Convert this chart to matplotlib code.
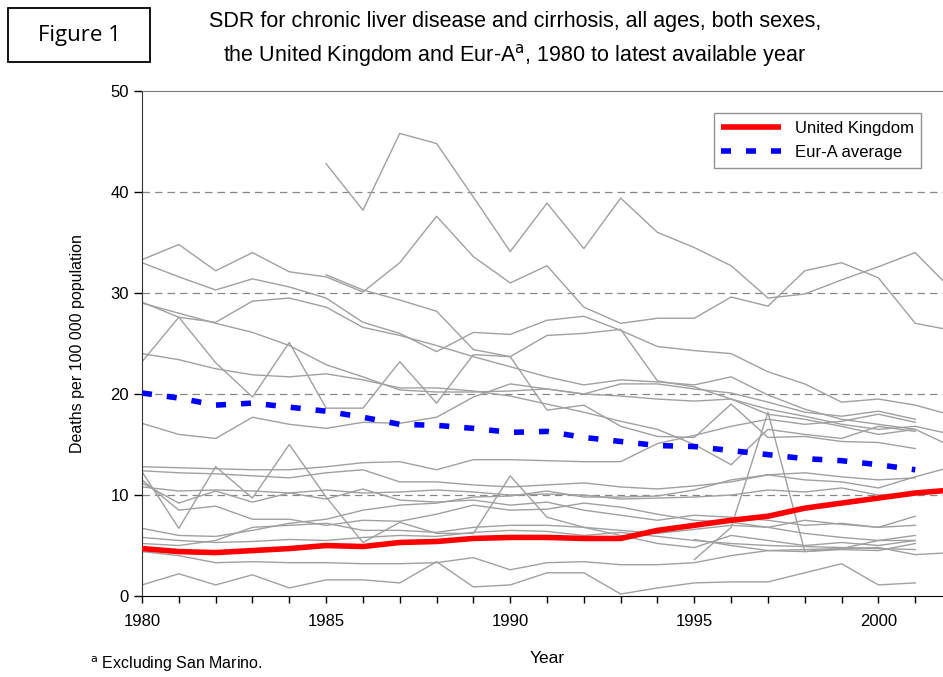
import numpy as np
import matplotlib
matplotlib.use("Agg")
import matplotlib.pyplot as plt
from matplotlib.patches import Rectangle

plt.rcParams['font.family'] = ['Liberation Sans', 'DejaVu Sans']

nan = np.nan
years = list(range(1980, 2003))

uk = [4.7, 4.4, 4.3, 4.5, 4.7, 5.0, 4.9, 5.3, 5.4, 5.7, 5.8, 5.8, 5.7, 5.7,
      6.5, 7.0, 7.5, 7.9, 8.7, 9.2, 9.7, 10.2, 10.5]
eur_a = [20.1, 19.6, 18.9, 19.1, 18.7, 18.3, 17.7, 17.0, 16.9, 16.6, 16.2, 16.3,
         15.7, 15.3, 14.9, 14.8, 14.4, 14.0, 13.6, 13.4, 13.0, 12.5, nan]

# other Eur-A countries (grey)
countries = [
    [nan, nan, nan, nan, nan, 42.8, 38.2, 45.8, 44.8, 39.5, 34.1, 38.9, 34.4, 39.4,
     36.0, 34.5, 32.7, 29.5, 29.9, 31.3, 32.6, 34.0, 30.3],
    [33.3, 34.8, 32.2, 34.0, 32.1, 31.6, 30.1, 33.0, 37.6, 33.6, 31.0, 32.7, 28.6, 27.0,
     27.5, 27.5, 29.6, 28.7, 32.2, 33.0, 31.5, 27.0, 26.3],
    [33.0, 31.6, 30.3, 31.4, 30.6, 29.5, 27.1, 26.0, 24.2, 26.1, 25.9, 27.3, 27.7, 26.3,
     24.7, 24.3, 24.0, 22.2, 21.0, 19.2, 19.5, 18.9, 17.9],
    [nan, nan, nan, nan, nan, 31.8, 30.3, 29.3, 28.2, 24.4, 23.7, 18.4, 18.9, 16.8,
     15.8, 15.7, 19.0, 15.7, 15.8, 15.3, 15.2, 14.6, nan],
    [29.0, 28.0, 27.0, 26.1, 24.8, 22.9, 21.7, 20.4, 20.2, 20.2, 20.3, 20.5, 20.0, 21.0,
     21.0, 20.5, 20.1, 19.2, 18.2, 17.8, 18.3, 17.5, nan],
    [29.1, 27.6, 27.1, 29.2, 29.5, 28.6, 26.6, 25.8, 24.8, 23.7, 22.7, 21.7, 20.9, 21.4,
     21.2, 20.9, 21.7, 19.9, 18.5, 17.5, 17.0, 16.5, nan],
    [23.2, 27.6, 23.1, 19.7, 25.1, 18.6, 18.6, 23.2, 19.1, 23.9, 23.7, 25.8, 26.0, 26.4,
     21.3, 20.7, 19.5, 18.0, 17.5, 16.8, 16.0, 16.5, 14.8],
    [24.0, 23.4, 22.5, 21.9, 21.7, 22.0, 21.4, 20.6, 20.6, 20.3, 19.8, 19.0, 18.2, 17.3,
     16.5, 15.0, 13.0, 16.5, 16.0, 15.6, 16.8, 16.3, nan],
    [17.1, 16.0, 15.6, 17.7, 17.0, 16.6, 17.2, 17.1, 17.7, 19.7, 21.0, 20.5, 20.0, 19.8,
     19.5, 19.3, 19.5, 18.5, 17.8, 17.0, 16.5, 16.8, 16.0],
    [12.8, 12.7, 12.6, 12.5, 12.5, 12.8, 13.2, 13.3, 12.5, 13.5, 13.5, 13.4, 13.3, 13.3,
     15.1, 15.9, 16.8, 17.5, 17.0, 17.3, 18.0, 17.2, nan],
    [12.4, 12.2, 12.1, 11.9, 11.7, 12.2, 12.5, 11.3, 11.3, 11.0, 10.8, 11.0, 11.2, 10.8,
     10.6, 10.9, 11.3, 12.0, 12.2, 11.8, 11.5, 11.7, nan],
    [12.3, 6.7, 12.8, 9.7, 15.0, 9.8, 5.3, 7.3, 6.2, 6.2, 11.9, 7.8, 6.8, 6.0,
     5.2, 4.8, 6.0, 5.5, 5.0, 5.3, 5.0, 5.5, nan],
    [11.2, 9.2, 10.4, 9.3, 10.2, 9.6, 10.6, 9.5, 9.3, 9.5, 9.0, 9.3, 8.5, 8.0,
     7.5, 8.0, 7.8, 7.5, 7.0, 7.2, 6.8, 7.0, nan],
    [11.5, 8.5, 8.9, 7.6, 7.6, 7.0, 7.5, 7.4, 8.1, 9.0, 8.5, 8.6, 9.2, 8.8,
     8.1, 7.5, 7.3, 6.8, 7.5, 7.1, 6.8, 7.9, nan],
    [10.8, 10.4, 10.5, 10.4, 10.2, 10.5, 10.2, 10.3, 10.5, 10.3, 10.0, 10.1, 10.0, 9.6,
     9.7, 9.8, 10.0, 10.5, 10.3, 10.7, 10.0, 10.2, nan],
    [6.7, 6.0, 5.9, 6.5, 7.2, 7.6, 8.5, 9.0, 9.2, 9.8, 9.9, 10.4, 9.8, 9.8,
     9.9, 10.5, 11.5, 12.0, 11.5, 11.3, 10.7, 11.8, 12.8],
    [5.2, 5.0, 5.5, 6.8, 7.0, 7.2, 6.5, 6.5, 6.3, 6.8, 7.0, 7.0, 6.8, 6.5,
     6.2, 6.6, 7.0, 6.8, 6.2, 5.8, 5.5, 5.5, nan],
    [5.8, 5.5, 5.3, 5.4, 5.6, 5.5, 5.8, 6.0, 5.9, 6.3, 6.5, 6.4, 6.0, 6.3,
     5.9, 5.5, 5.2, 5.0, 4.9, 4.8, 4.7, 4.6, nan],
    [4.4, 4.0, 3.3, 3.4, 3.3, 3.3, 3.2, 3.2, 3.3, 3.8, 2.6, 3.3, 3.4, 3.1,
     3.1, 3.3, 4.0, 4.5, 4.6, 4.7, 4.8, 4.1, 4.3],
    [1.1, 2.2, 1.1, 2.1, 0.8, 1.6, 1.6, 1.3, 3.4, 0.9, 1.1, 2.3, 2.3, 0.2,
     0.8, 1.3, 1.4, 1.4, 2.3, 3.2, 1.1, 1.3, nan],
    [nan, nan, nan, nan, nan, nan, nan, nan, nan, nan, nan, nan, nan, nan,
     nan, 3.6, 6.8, 18.2, 4.4, 4.6, 4.5, 5.2, nan],
    [nan, nan, nan, nan, nan, nan, nan, nan, nan, nan, nan, nan, nan, nan,
     nan, 5.6, 5.0, 4.5, 4.4, 4.7, 5.5, 6.0, nan],
]

fig = plt.figure(figsize=(9.43, 6.77), dpi=100)
ax = fig.add_axes([0.1506, 0.1196, 0.859, 0.746])

for c in countries:
    ax.plot(years, c, color='#a0a0a0', lw=1.0, zorder=2)

ax.plot(years, uk, color='#ff0000', lw=4, solid_capstyle='butt', zorder=4,
        label='United Kingdom')
ax.plot(years, eur_a, color='#0000ff', lw=4, dashes=(1.8, 2.7), zorder=4,
        label='Eur-A average')

for yv in [10, 20, 30, 40]:
    ax.axhline(yv, color='#888888', lw=0.9, dashes=(6, 4), zorder=1)

ax.set_xlim(1980, 2002)
ax.set_ylim(0, 50)
ax.set_xticks(years)
ax.set_xticklabels([str(y) if y % 5 == 0 else '' for y in years], fontsize=12)
ax.set_yticks([0, 10, 20, 30, 40, 50])
ax.tick_params(axis='y', labelsize=12, length=6, direction='out', width=1)
ax.tick_params(axis='x', length=5, direction='out', width=1, pad=8)
ax.spines['right'].set_visible(False)
ax.spines['top'].set_color('#777777')
ax.spines['left'].set_color('#333333')
ax.spines['bottom'].set_color('#000000')

ax.set_xlabel('Year', fontsize=12.5, labelpad=16)
ax.set_ylabel('Deaths per 100 000 population', fontsize=11.5, labelpad=18)

leg = ax.legend(loc='upper right', bbox_to_anchor=(0.972, 0.972), fontsize=12,
                handlelength=3.6, frameon=True, fancybox=False, borderpad=0.45,
                labelspacing=0.55)
leg.get_frame().set_edgecolor('#777777')
leg.get_frame().set_linewidth(1.0)

fig.text(0.546, 0.968, 'SDR for chronic liver disease and cirrhosis, all ages, both sexes,',
         ha='center', va='center', fontsize=15.5)
fig.text(0.546, 0.918, r'the United Kingdom and Eur-A$^{\rm a}$, 1980 to latest available year',
         ha='center', va='center', fontsize=15.5)

fig.add_artist(Rectangle((8 / 943, 1 - 62 / 677), 142 / 943, 54 / 677,
                         transform=fig.transFigure, fill=False, edgecolor='black', lw=1.3))
fig.text(79 / 943, 1 - 35 / 677, 'Figure 1', ha='center', va='center', fontsize=16,
         family=['Open Sans', 'DejaVu Sans'])

fig.text(0.095, 0.004, r'$^{\rm a}$ Excluding San Marino.', ha='left', va='bottom', fontsize=11.5)

fig.savefig('out.png', dpi=100)
